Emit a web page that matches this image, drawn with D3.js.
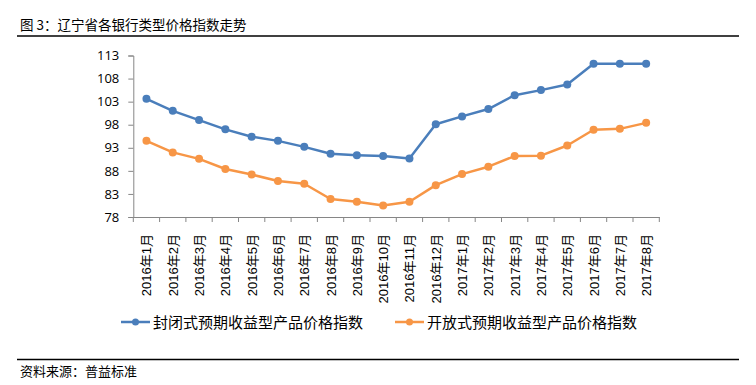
<!DOCTYPE html>
<html>
<head>
<meta charset="utf-8">
<script src="https://cdn.jsdelivr.net/npm/d3@7"></script>
<style>
    body { margin: 0; background: #fff; }
    svg { display: block; font-family: "Liberation Sans", "Noto Sans CJK SC", sans-serif; }
    .axis path, .axis line { stroke: #868686; }
    .axis text { fill: #000; font-size: 13px; }
</style>
</head>
<body>
<svg id="chart"></svg>
<script>
const WIDTH = 756;
const HEIGHT = 385;

// Data
const months = ['2016年1月', '2016年2月', '2016年3月', '2016年4月', '2016年5月', '2016年6月',
    '2016年7月', '2016年8月', '2016年9月', '2016年10月', '2016年11月', '2016年12月',
    '2017年1月', '2017年2月', '2017年3月', '2017年4月', '2017年5月', '2017年6月',
    '2017年7月', '2017年8月'];
const closedIndex = [103.6, 101.0, 99.0, 97.0, 95.4, 94.5, 93.2, 91.7, 91.4, 91.2, 90.7,
    98.1, 99.8, 101.4, 104.4, 105.5, 106.7, 111.2, 111.2, 111.2];
const openIndex = [94.5, 92.0, 90.6, 88.4, 87.2, 85.8, 85.2, 81.9, 81.3, 80.5, 81.3,
    84.9, 87.3, 88.9, 91.2, 91.3, 93.5, 96.9, 97.1, 98.4];
const yTicks = [78, 83, 88, 93, 98, 103, 108, 113];
const seriesNames = ['封闭式预期收益型产品价格指数', '开放式预期收益型产品价格指数'];
const seriesColors = ['#4a7ebb', '#f79646'];

const plot = { left: 133.3, right: 659.3, top: 55.5, bottom: 217 };

let svg = d3.select('#chart')
    .attr('width', WIDTH)
    .attr('height', HEIGHT);

// Title and rules
svg.append('text')
    .attr('x', 20)
    .attr('y', 30)
    .style('font-size', '13.5px')
    .style('font-family', '"Noto Sans CJK SC", sans-serif')
    .text('图 3：辽宁省各银行类型价格指数走势');

svg.append('line')
    .attr('x1', 17).attr('x2', 739)
    .attr('y1', 36).attr('y2', 36)
    .attr('stroke', '#000')
    .attr('stroke-width', 1.5);

svg.append('line')
    .attr('x1', 17).attr('x2', 739)
    .attr('y1', 359.5).attr('y2', 359.5)
    .attr('stroke', '#000')
    .attr('stroke-width', 1.5);

svg.append('text')
    .attr('x', 20)
    .attr('y', 376)
    .style('font-size', '13px')
    .style('font-family', '"Noto Sans CJK SC", sans-serif')
    .text('资料来源：普益标准');

// Scales
let xScale = d3.scaleBand()
    .domain(months)
    .range([plot.left, plot.right]);

let yScale = d3.scaleLinear()
    .domain([78, 113])
    .range([plot.bottom, plot.top]);

// Axes
let yAxis = d3.axisLeft(yScale)
    .tickValues(yTicks)
    .tickSize(5)
    .tickPadding(9);

svg.append('g')
    .attr('class', 'axis')
    .attr('transform', `translate(${plot.left}, 0)`)
    .call(yAxis)
    .selectAll('text')
    .style('font-family', '"Open Sans", sans-serif')
    .style('font-size', '13px');

let xAxis = svg.append('g')
    .attr('class', 'axis')
    .attr('transform', `translate(0, ${plot.bottom})`)
    .call(d3.axisBottom(xScale).tickSize(0).tickSizeOuter(0).tickFormat(''));

// boundary tick marks between categories
xAxis.selectAll('.bound')
    .data(months.concat(['']))
    .enter().append('line')
    .attr('class', 'bound')
    .attr('x1', (d, i) => i < months.length ? xScale(d) : plot.right)
    .attr('x2', (d, i) => i < months.length ? xScale(d) : plot.right)
    .attr('y1', 0)
    .attr('y2', 5);

svg.selectAll('.xlabel')
    .data(months)
    .enter().append('text')
    .attr('class', 'xlabel')
    .attr('text-anchor', 'end')
    .attr('transform', d => `translate(${xScale(d) + xScale.bandwidth() / 2 + 5}, 234) rotate(-90)`)
    .style('font-size', '13px')
    .text(d => d);

// Lines and markers
let line = d3.line()
    .x((d, i) => xScale(months[i]) + xScale.bandwidth() / 2)
    .y(d => yScale(d));

[closedIndex, openIndex].forEach((values, k) => {
    svg.append('path')
        .datum(values)
        .attr('d', line)
        .attr('fill', 'none')
        .attr('stroke', seriesColors[k])
        .attr('stroke-width', 2.5)
        .attr('stroke-linejoin', 'round');

    svg.selectAll('.dot' + k)
        .data(values)
        .enter().append('circle')
        .attr('class', 'dot' + k)
        .attr('cx', (d, i) => xScale(months[i]) + xScale.bandwidth() / 2)
        .attr('cy', d => yScale(d))
        .attr('r', 4)
        .attr('fill', seriesColors[k]);
});

// Legend
const legendX = [121, 395];
seriesNames.forEach((name, k) => {
    let g = svg.append('g')
        .attr('transform', `translate(${legendX[k]}, 322)`);
    g.append('line')
        .attr('x1', 0).attr('x2', 29)
        .attr('stroke', seriesColors[k])
        .attr('stroke-width', 2.5);
    g.append('circle')
        .attr('cx', 14.5)
        .attr('r', 3.5)
        .attr('fill', seriesColors[k]);
    g.append('text')
        .attr('x', 32)
        .attr('y', 5.5)
        .style('font-size', '15px')
        .style('font-family', '"Noto Sans CJK SC", sans-serif')
        .text(name);
});
</script>
</body>
</html>
